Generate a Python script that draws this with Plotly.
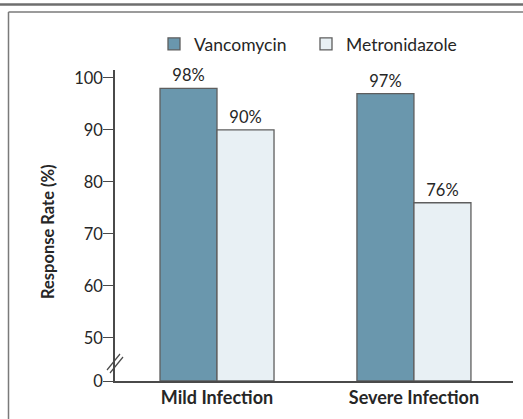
import plotly.graph_objects as go

# ---- data ----
categories = ["Mild Infection", "Severe Infection"]
vancomycin = [98, 97]
metronidazole = [90, 76]
tick_values = [0, 50, 60, 70, 80, 90, 100]
tick_labels = ["0", "50", "60", "70", "80", "90", "100"]

# ---- broken y scale: 0-50 compressed ----
BREAK_AT = 50
BREAK_SPAN = 8.27


def ypos(v):
    if v >= BREAK_AT:
        return v - BREAK_AT + BREAK_SPAN
    return v * BREAK_SPAN / BREAK_AT


W, H = 523, 419
ML, MR, MT, MB = 115, 10, 70, 38
PW, PH = W - ML - MR, H - MT - MB


def fx(px):
    return (px - ML) / PW


def fy(py):
    return (H - MB - py) / PH


FONT = "Lato"
TXT = "#262626"
VAN = "#6a97ad"
MET = "#e8f0f4"
EDGE = "#5e5e5e"

fig = go.Figure()
fig.add_trace(go.Bar(
    name="Vancomycin", x=categories, y=[ypos(v) for v in vancomycin],
    customdata=vancomycin, texttemplate="%{customdata}%", textposition="outside",
    marker=dict(color=VAN, line=dict(color=EDGE, width=1.3)),
    textfont=dict(size=16.5, color=TXT, family=FONT), cliponaxis=False,
    hovertemplate="%{x}: %{customdata}%<extra>Vancomycin</extra>",
))
fig.add_trace(go.Bar(
    name="Metronidazole", x=categories, y=[ypos(v) for v in metronidazole],
    customdata=metronidazole, texttemplate="%{customdata}%", textposition="outside",
    marker=dict(color=MET, line=dict(color=EDGE, width=1.3)),
    textfont=dict(size=16.5, color=TXT, family=FONT), cliponaxis=False,
    hovertemplate="%{x}: %{customdata}%<extra>Metronidazole</extra>",
))

shapes = [
    # top rule
    dict(type="line", xref="paper", yref="paper", x0=fx(0), x1=fx(W), y0=fy(4.5), y1=fy(4.5),
         line=dict(color="#6e6e6e", width=2.5)),
    # frame (left + top)
    dict(type="line", xref="paper", yref="paper", x0=fx(8.5), x1=fx(W), y0=fy(12), y1=fy(12),
         line=dict(color="#7a7a7a", width=1.5)),
    dict(type="line", xref="paper", yref="paper", x0=fx(8.5), x1=fx(8.5), y0=fy(12), y1=fy(H),
         line=dict(color="#7a7a7a", width=1.5)),
    # axis break marks
    dict(type="line", xref="paper", yref="paper", x0=fx(107), x1=fx(120), y0=fy(370), y1=fy(354),
         line=dict(color="#4a4a4a", width=1.2)),
    dict(type="line", xref="paper", yref="paper", x0=fx(110), x1=fx(123), y0=fy(373), y1=fy(357),
         line=dict(color="#4a4a4a", width=1.2)),
]

fig.update_layout(
    width=W, height=H,
    margin=dict(l=ML, r=MR, t=MT, b=MB),
    paper_bgcolor="white", plot_bgcolor="white",
    font=dict(family=FONT, color=TXT, size=16),
    barmode="group", bargap=0.421, bargroupgap=0,
    showlegend=True,
    legend=dict(orientation="h", x=fx(154), y=fy(44), xanchor="left", yanchor="middle",
                font=dict(size=17.5, family=FONT, color=TXT),
                entrywidth=107, entrywidthmode="pixels", bgcolor="rgba(0,0,0,0)"),
    xaxis=dict(range=[-0.518, 1.503], showline=True, linecolor="#4a4a4a", linewidth=1.5,
               ticks="", showgrid=False, zeroline=False,
               tickfont=dict(size=18, family=FONT, color=TXT, weight="bold")),
    yaxis=dict(range=[0, 59.8], tickmode="array",
               tickvals=[ypos(v) for v in tick_values], ticktext=tick_labels,
               showline=True, linecolor="#4a4a4a", linewidth=1.5,
               ticks="outside", ticklen=10, tickwidth=1.3, tickcolor="#4a4a4a",
               ticklabelstandoff=-3,
               showgrid=False, zeroline=False,
               tickfont=dict(size=16.5, family=FONT, color=TXT)),
    shapes=shapes,
    annotations=[dict(text="<b>Response Rate (%)</b>", textangle=-90, xref="paper", yref="paper",
                      x=fx(48), y=fy(232), xanchor="center", yanchor="middle", showarrow=False,
                      font=dict(size=16.5, family=FONT, color=TXT))],
)

fig.write_html("out.html", config={"displayModeBar": False},
               post_script="document.body.style.margin='0';")
